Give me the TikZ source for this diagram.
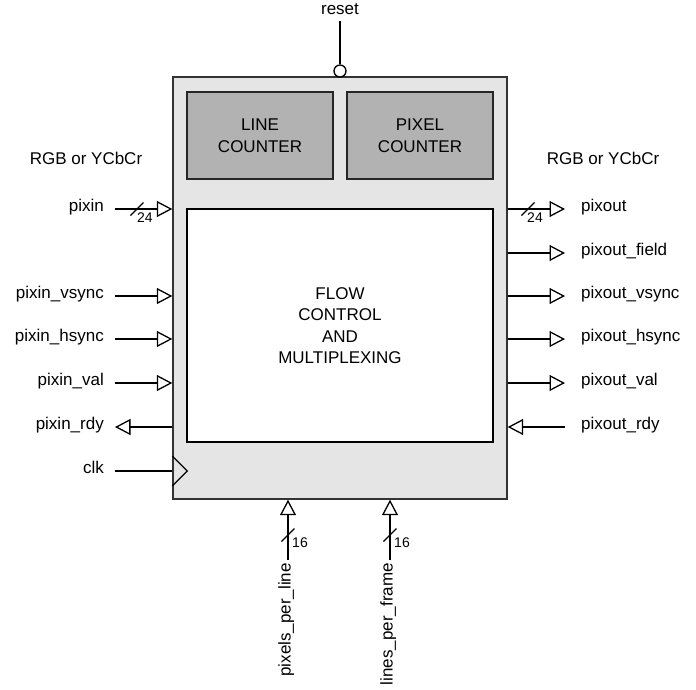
\documentclass[tikz,border=0pt]{standalone}
\usepackage{fontspec}
\setmainfont{Liberation Sans}
\usetikzlibrary{calc, arrows.meta}

\tikzset{
    pinline/.style={line width=1.3pt, black},
    inpin/.style={pinline, -{Triangle[open, length=15.5pt, width=16pt, line width=1.3pt]}},
    lbl/.style={font=\fontsize{17}{20}\selectfont, text height=1ex, text depth=0pt, inner ysep=0pt},
    lblL/.style={lbl, anchor=east, inner xsep=11pt},
    lblR/.style={lbl, anchor=west, inner xsep=16pt},
    buslbl/.style={font=\fontsize{14}{16}\selectfont, inner sep=0pt},
    blkbox/.style={draw=black!80, line width=1.4pt, fill=black!10, minimum width=334pt, minimum height=422pt},
    cntbox/.style={draw=black!85, line width=1.2pt, fill=black!30, minimum width=146pt, minimum height=87pt,
        align=center, font=\fontsize{17}{22}\selectfont},
}

% marca de bus con su ancho
\newcommand{\busmark}[3]{%
    \draw[pinline] ($(#1)+(-6.5,6.5)$) -- ($(#1)+(6.5,-6.5)$);
    \node[buslbl] at ($(#1)+#3$) {#2};}

\begin{document}
\begin{tikzpicture}[x=1pt, y=-1pt]
    \useasboundingbox (0,0) rectangle (696,689);

    % Bloque principal y sus partes
    \node[blkbox] (blk) at (340,288) {};
    \node[cntbox] (linecnt) at (260,135.5) {LINE\\COUNTER};
    \node[cntbox] (pixcnt) at (420,135.5) {PIXEL\\COUNTER};
    \node[draw=black, line width=1.3pt, fill=white, minimum width=306pt, minimum height=233pt,
        align=center, font=\fontsize{17}{21.5}\selectfont] (flow) at (340,325.5)
        {FLOW\\CONTROL\\AND\\MULTIPLEXING};

    % Textos de formato
    \node[font=\fontsize{17}{20}\selectfont] (fmtin) at (86,158) {RGB or YCbCr};
    \node[font=\fontsize{17}{20}\selectfont] (fmtout) at (603,158) {RGB or YCbCr};

    % Entradas a la izquierda
    \foreach \nm/\txt/\yy in {pixin/pixin/209, pinvs/pixin\_vsync/296, pinhs/pixin\_hsync/339, pinval/pixin\_val/383}{
        \node[lblL] (\nm) at (115,\yy) {\txt};
        \draw[inpin] (\nm.east) -- (\nm.east -| blk.west);
    }
    \node[lblL] (pinrdy) at (115,427) {pixin\_rdy};
    \draw[inpin] (pinrdy.east -| blk.west) -- (pinrdy.east);

    % Reloj
    \node[lblL] (clk) at (115,471) {clk};
    \draw[pinline] (clk.east) -- (clk.east -| blk.west);
    \coordinate (ck) at (clk.east -| blk.west);
    \draw[pinline] ($(ck)+(0,-15)$) -- ($(ck)+(15,0)$) -- ($(ck)+(0,15)$);

    % Salidas a la derecha
    \foreach \nm/\txt/\yy in {pixout/pixout/209, poutfld/pixout\_field/253, poutvs/pixout\_vsync/296,
        pouths/pixout\_hsync/339, poutval/pixout\_val/383}{
        \node[lblR] (\nm) at (565,\yy) {\txt};
        \draw[inpin] (\nm.west -| blk.east) -- (\nm.west);
    }
    \node[lblR] (poutrdy) at (565,427) {pixout\_rdy};
    \draw[inpin] (poutrdy.west) -- (poutrdy.west -| blk.east);

    % Anchos de bus
    \coordinate (busin) at (137,209);
    \coordinate (busout) at (528,209);
    \busmark{busin}{24}{(8,9)}
    \busmark{busout}{24}{(7,9)}

    % Reset
    \node[lbl, inner ysep=6pt] (reset) at (340,12) {reset};
    \node[circle, draw=black, line width=1.3pt, fill=white, minimum size=12pt, inner sep=0pt] (rstc) at (340,71) {};
    \draw[pinline] (reset.south) -- (rstc.north);

    % Parametros abajo
    \node[lbl, rotate=90, anchor=east, inner xsep=3pt] (ppl) at (288,560) {pixels\_per\_line};
    \node[lbl, rotate=90, anchor=east, inner xsep=3pt] (lpf) at (390,560) {lines\_per\_frame};
    \draw[inpin] (ppl.east) -- (ppl.east |- blk.south);
    \draw[inpin] (lpf.east) -- (lpf.east |- blk.south);
    \coordinate (busppl) at (288,535);
    \coordinate (buslpf) at (390,535);
    \busmark{busppl}{16}{(12,8)}
    \busmark{buslpf}{16}{(12,8)}

\end{tikzpicture}
\end{document}
